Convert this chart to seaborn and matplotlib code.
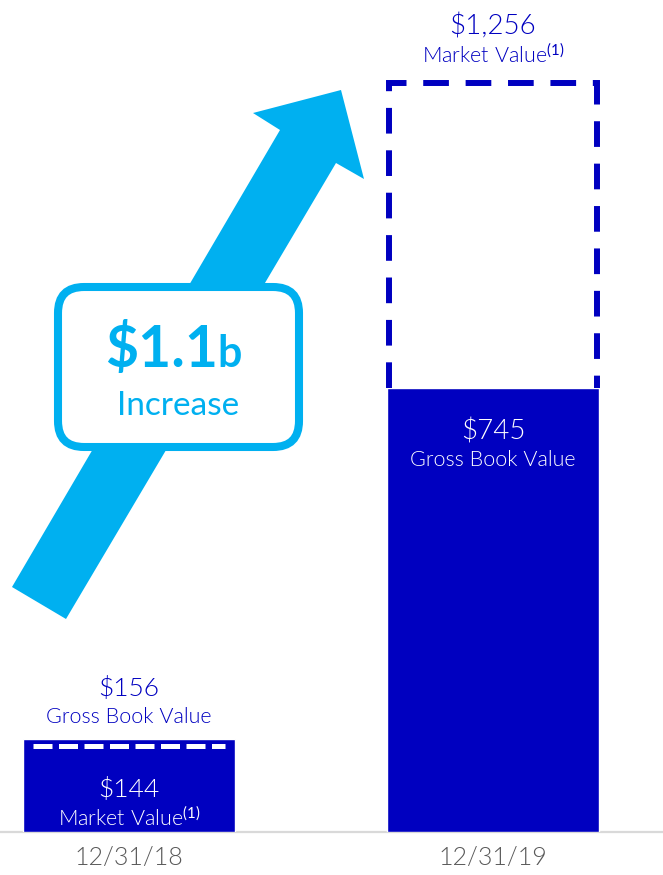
import matplotlib
matplotlib.use("Agg")
import matplotlib.pyplot as plt
from matplotlib.patches import Polygon, FancyBboxPatch
import seaborn as sns

# Portfolio values, $ millions
dates = ["12/31/18", "12/31/19"]
gross_book_value = [156, 745]
market_value = [144, 1256]
increase_value = "$1.1"
increase_unit = "b"
increase_caption = "Increase"
gross_caption = "Gross Book Value"
market_caption = "Market Value$^{(1)}$"

NAVY = "#0000C0"
SKY = "#00B0F0"
GREY_TEXT = "#595959"
LIGHT = 300

sns.set_theme(style="white")
plt.rcParams["font.family"] = ["Lato", "DejaVu Sans"]
plt.rcParams["mathtext.fontset"] = "custom"
plt.rcParams["mathtext.rm"] = "Lato"
plt.rcParams["mathtext.it"] = "Lato:italic"
plt.rcParams["mathtext.bf"] = "Lato:bold"

W, H = 663, 875
fig = plt.figure(figsize=(W / 100, H / 100), dpi=100)
base_px = 832
ax = fig.add_axes([0, (H - base_px) / H, 1, base_px / H])

bar_w = 0.585
sns.barplot(x=dates, y=gross_book_value, color=NAVY, saturation=1,
            width=bar_w, ax=ax, zorder=2)

ax.set_xlim(-129 / 364, 1 + (W - 493) / 364)
ax.set_ylim(0, base_px / 0.596)

def label(i, val, text, off, color, size):
    ax.annotate(text, xy=(i, val), xytext=(0, off), textcoords="offset pixels",
                ha="center", va="baseline", color=color, fontsize=size,
                fontweight=LIGHT, zorder=5)

for i, (g, m) in enumerate(zip(gross_book_value, market_value)):
    if m > g:
        # market value above the book value: open dashed frame on top of the bar
        x0 = i - bar_w / 2 + 0.008
        x1 = i + bar_w / 2 - 0.008
        ax.plot([x0, x0, x1, x1], [g, m, m, g], color=NAVY, lw=4.3,
                ls=(0, (4.3, 2.8)), solid_joinstyle="miter",
                dash_joinstyle="miter", dash_capstyle="butt", zorder=3)
        label(i, m, f"${m:,}", 49, NAVY, 20)
        label(i, m, market_caption, 21, NAVY, 15.5)
        label(i, g, f"${g:,}", -52, "white", 20)
        label(i, g, gross_caption, -78, "white", 15.5)
    else:
        # market value below the book value: white dashed line inside the bar
        ax.hlines(m, i - bar_w / 2 + 0.03, i + bar_w / 2 - 0.03, colors="white",
                  lw=3.6, linestyles=[(0, (3.8, 1.3))], zorder=3)
        label(i, g, f"${g:,}", 43, NAVY, 19)
        label(i, g, gross_caption, 16, NAVY, 15.5)
        label(i, 0, f"${m:,}", 35, "white", 19)
        label(i, 0, market_caption, 6, "white", 15.5)

sns.despine(ax=ax, left=True, top=True, right=True)
ax.spines["bottom"].set_color("#D9D9D9")
ax.spines["bottom"].set_linewidth(1.6)
ax.spines["bottom"].set_zorder(1)
ax.set_yticks([])
ax.set_ylabel("")
ax.tick_params(axis="x", length=0, pad=10, labelsize=18, labelcolor=GREY_TEXT)
for t in ax.get_xticklabels():
    t.set_fontweight(LIGHT)
ax.patch.set_alpha(0)

# Growth arrow and callout, laid out in pixel units
deco = fig.add_axes([0, 0, 1, 1], zorder=3)
deco.set_xlim(0, W)
deco.set_ylim(H, 0)
deco.axis("off")
deco.patch.set_alpha(0)

arrow_pts = [(12, 587), (280, 130), (253, 113), (341, 90),
             (364, 179), (336, 163), (66, 619)]
deco.add_patch(Polygon(arrow_pts, closed=True, fc=SKY, ec="none", zorder=1))

deco.add_patch(FancyBboxPatch((58, 287), 241, 160,
                              boxstyle="round,pad=0,rounding_size=26",
                              fc="white", ec=SKY, lw=5.8, zorder=2))
deco.text(218, 367, increase_value, ha="right", va="baseline", color=SKY,
          fontsize=41, fontweight="bold", zorder=3)
deco.text(217, 367, increase_unit, ha="left", va="baseline", color=SKY,
          fontsize=31, fontweight="bold", zorder=3)
deco.text(178, 415, increase_caption, ha="center", va="baseline", color=SKY,
          fontsize=24, zorder=3)

fig.savefig("out.png", dpi=100)
